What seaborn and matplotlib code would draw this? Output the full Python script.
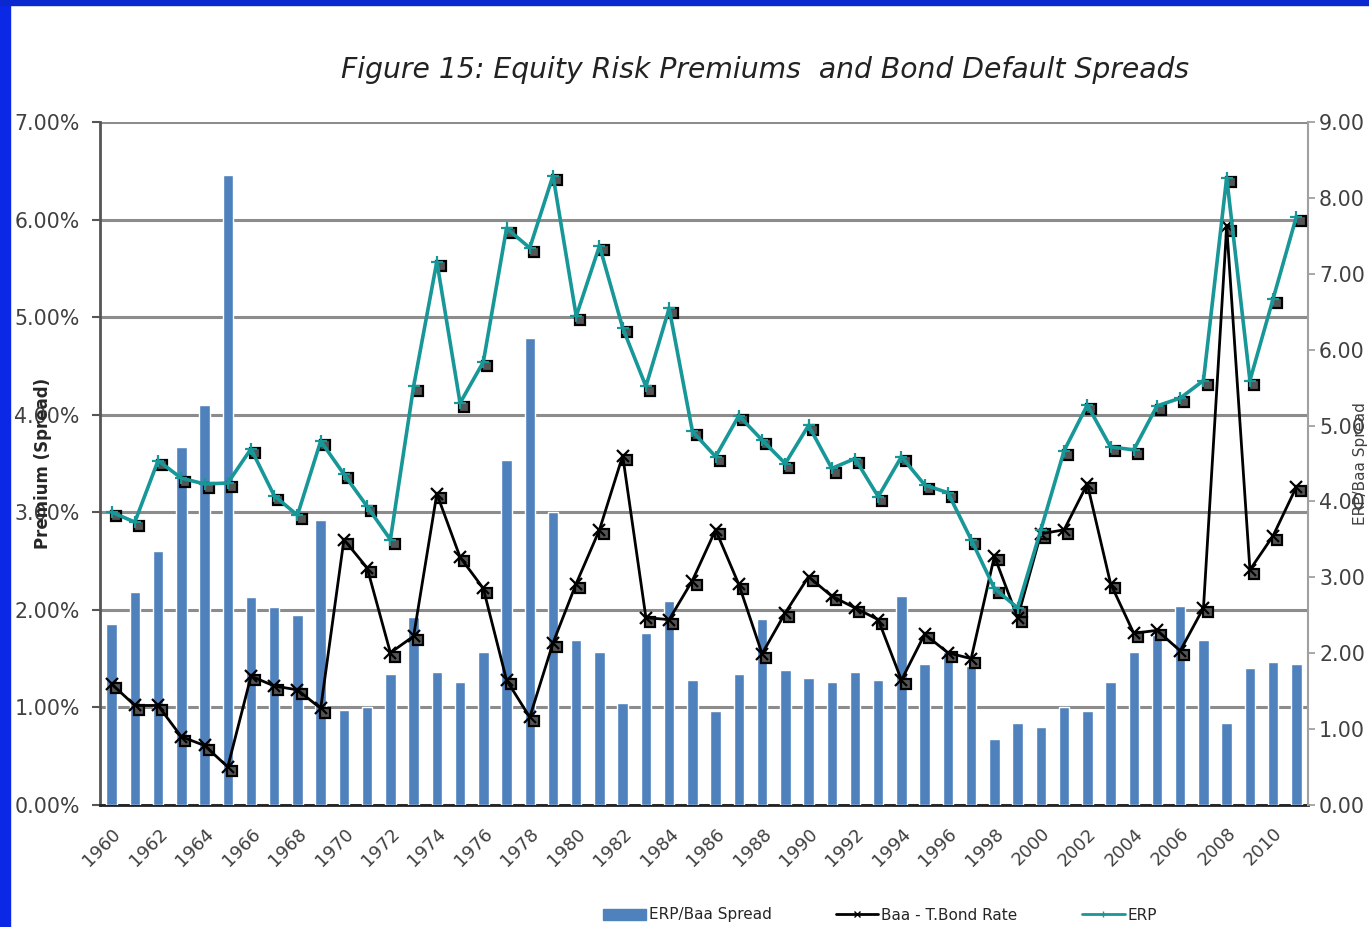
import numpy as np
import pandas as pd
import matplotlib
matplotlib.use("Agg")
import matplotlib.pyplot as plt
import matplotlib.transforms as mtransforms
from matplotlib.lines import Line2D
from matplotlib.patches import Patch, Rectangle
from matplotlib.ticker import FixedLocator, FixedFormatter
import seaborn as sns

years = list(range(1960, 2012))

# ERP (percent, left axis)
erp = [3.00, 2.90, 3.53, 3.35, 3.29, 3.30, 3.65, 3.17, 2.97, 3.73,
       3.39, 3.06, 2.72, 4.29, 5.57, 4.12, 4.54, 5.91, 5.71, 6.45,
       5.01, 5.73, 4.89, 4.29, 5.09, 3.83, 3.57, 3.99, 3.74, 3.50,
       3.89, 3.45, 3.55, 3.16, 3.57, 3.28, 3.20, 2.72, 2.22, 2.02,
       2.82, 3.63, 4.10, 3.67, 3.64, 4.09, 4.17, 4.35, 6.43, 4.35,
       5.19, 6.03]

# Baa - T.Bond rate (percent, left axis)
baa_spread = [1.24, 1.02, 1.02, 0.70, 0.61, 0.39, 1.32, 1.22, 1.18, 0.99,
              2.72, 2.43, 1.56, 1.73, 3.19, 2.54, 2.22, 1.28, 0.90, 1.66,
              2.27, 2.82, 3.58, 1.92, 1.90, 2.30, 2.82, 2.26, 1.55, 1.97,
              2.34, 2.14, 2.02, 1.90, 1.28, 1.75, 1.56, 1.50, 2.55, 1.92,
              2.78, 2.82, 3.29, 2.27, 1.76, 1.79, 1.58, 2.02, 5.93, 2.41,
              2.76, 3.26]

# ERP / Baa spread ratio (right axis)
ratio = [2.38, 2.81, 3.35, 4.72, 5.27, 8.30, 2.74, 2.61, 2.50, 3.75,
         1.25, 1.29, 1.73, 2.48, 1.75, 1.62, 2.02, 4.55, 6.15, 3.86,
         2.17, 2.02, 1.34, 2.27, 2.69, 1.65, 1.24, 1.73, 2.45, 1.78,
         1.67, 1.62, 1.75, 1.65, 2.75, 1.86, 2.02, 1.83, 0.87, 1.08,
         1.03, 1.29, 1.24, 1.62, 2.02, 2.24, 2.62, 2.17, 1.08, 1.80,
         1.88, 1.86]

df = pd.DataFrame({"Year": years, "ERP": erp, "Baa": baa_spread, "Ratio": ratio})
df["pos"] = np.arange(len(df))

sns.set_style("white")
plt.rcParams["font.family"] = ["DejaVu Sans"]

BAR = "#4F81BD"
TEAL = "#179797"
GRAY_TXT = "#404040"

fig = plt.figure(figsize=(13.69, 9.27), dpi=100)
fig.patch.set_facecolor("white")
# blue slide frame
fig.patches.append(Rectangle((0, 0), 10 / 1369, 1, transform=fig.transFigure,
                             color="#0A28E6", zorder=0))
fig.patches.append(Rectangle((0, 1 - 5 / 927), 1, 5 / 927, transform=fig.transFigure,
                             color="#0A28D0", zorder=0))

ax = fig.add_axes([100 / 1369, 1 - 805 / 927, 1208 / 1369, 683 / 927])
ax_bar = ax.twinx()
ax_line = ax.twinx()

# bars on right axis
sns.barplot(data=df, x="pos", y="Ratio", ax=ax_bar, color=BAR, width=0.45,
            saturation=1, native_scale=True, zorder=2)

# lines on left scale
off = mtransforms.offset_copy(ax_line.transData, fig=fig, x=3, y=-3, units="points")
for col, c, mk, lw in [("Baa", "black", "x", 2.0), ("ERP", TEAL, "+", 2.6)]:
    ax_line.plot(df["pos"], df[col], ls="none", marker="s", ms=7, mfc="#555555",
                 mec="black", mew=1.6, transform=off, zorder=3)
    sns.lineplot(data=df, x="pos", y=col, ax=ax_line, color=c, lw=lw,
                 marker=mk, ms=9, mew=1.6, mec=c, zorder=4)

n = len(df)
for a in (ax, ax_bar, ax_line):
    a.set_xlim(-0.5, n - 0.5)
ax_line.set_ylim(0, 7)
ax.set_ylim(0, 7)
ax_bar.set_ylim(0, 9)

# left axis
ax.set_yticks(np.arange(0, 8, 1))
ax.set_yticklabels([f"{v:.2f}%" for v in np.arange(0, 8, 1)], fontsize=14.8, color=GRAY_TXT)
ax.yaxis.grid(True, color="#8C8C8C", lw=2.2)
ax.set_axisbelow(True)
ax.tick_params(axis="y", length=6, width=1.5, color="#555555", pad=8.5)
ax.set_ylabel("Premium (Spread)", fontsize=12, fontweight="bold")
ax.yaxis.set_label_coords(-48 / 1208, 0.5)

# right axis
ax_bar.set_yticks(np.arange(0, 10, 1))
ax_bar.set_yticklabels([f"{v:.2f}" for v in np.arange(0, 10, 1)], fontsize=14.8, color=GRAY_TXT)
ax_bar.tick_params(axis="y", length=5, width=1.2, color="#999999", pad=3)
ax_bar.set_ylabel("ERP/Baa Spread", fontsize=11, color=GRAY_TXT)
ax_bar.yaxis.set_label_coords(1 + 45 / 1208, 0.5)
ax_bar.set_xlabel("")
ax_bar.grid(False)

ax_line.set_yticks([])
ax_line.set_ylabel("")
ax_line.set_xlabel("")
ax_line.grid(False)

# x axis: category boundary ticks and labels every two years
ax.xaxis.set_major_locator(FixedLocator(np.arange(0, n, 2)))
ax.xaxis.set_major_formatter(FixedFormatter([str(y) for y in years[::2]]))
ax.tick_params(axis="x", which="major", length=0, pad=14, labelsize=13,
               labelcolor=GRAY_TXT, labelrotation=45)
ax.xaxis.set_minor_locator(FixedLocator(np.arange(-0.5, n, 1)))
ax.tick_params(axis="x", which="minor", length=7, width=1.5, color="#555555")
ax.set_xlabel("")
for lab in ax.get_xticklabels():
    lab.set_ha("right")
    lab.set_rotation_mode("anchor")

for a in (ax, ax_bar, ax_line):
    for s in a.spines.values():
        s.set_visible(False)
ax.spines["left"].set_visible(True)
ax.spines["left"].set_color("#555555")
ax.spines["left"].set_linewidth(2)
ax.spines["bottom"].set_visible(True)
ax.spines["bottom"].set_color("#222222")
ax.spines["bottom"].set_linewidth(2)
ax_bar.spines["right"].set_visible(True)
ax_bar.spines["right"].set_color("#A0A0A0")
ax_bar.spines["right"].set_linewidth(1.5)

fig.text(765 / 1369, 1 - 70 / 927, "Figure 15: Equity Risk Premiums  and Bond Default Spreads",
         ha="center", va="center", fontsize=20.3, style="italic", color="#222222")

handles = [Patch(facecolor=BAR, edgecolor=BAR),
           Line2D([], [], color="black", lw=2, marker="x", ms=5),
           Line2D([], [], color=TEAL, lw=2, marker="+", ms=5)]
fig.legend(handles, ["ERP/Baa Spread", "Baa - T.Bond Rate", "ERP"],
           loc="center", bbox_to_anchor=(880 / 1369, 1 - 915 / 927), ncol=3,
           frameon=False, fontsize=11, columnspacing=4.2, handlelength=2.8,
           handletextpad=0.2)

fig.savefig("out.png", dpi=100)
